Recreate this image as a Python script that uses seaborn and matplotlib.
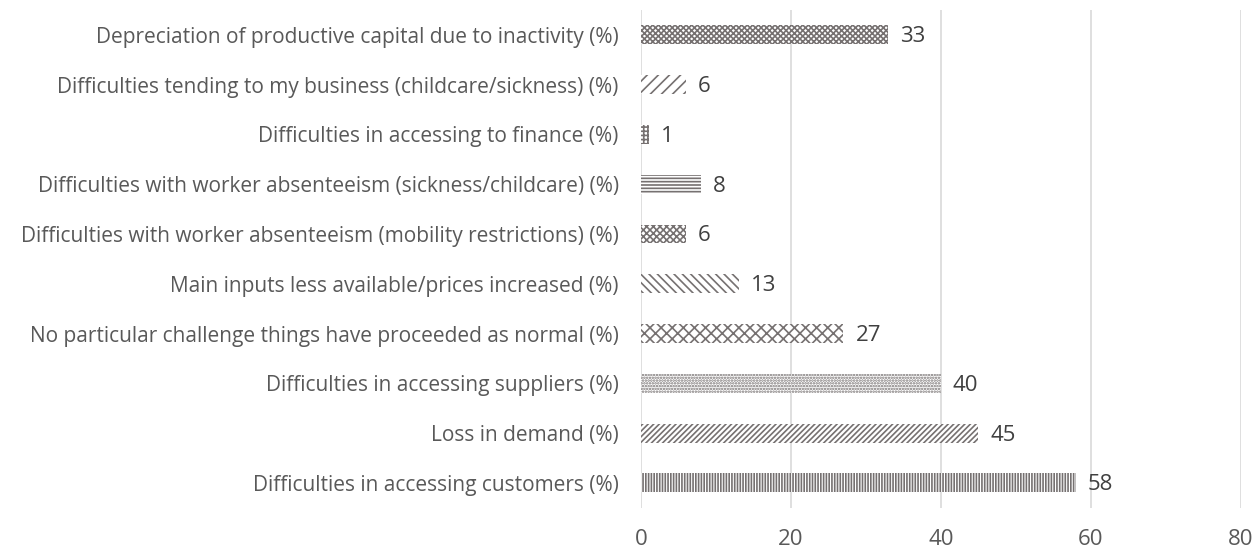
import pandas as pd
import seaborn as sns
import matplotlib.pyplot as plt

categories = [
    "Depreciation of productive capital due to inactivity (%)",
    "Difficulties tending to my business (childcare/sickness) (%)",
    "Difficulties in accessing to finance (%)",
    "Difficulties with worker absenteeism (sickness/childcare) (%)",
    "Difficulties with worker absenteeism (mobility restrictions) (%)",
    "Main inputs less available/prices increased (%)",
    "No particular challenge things have proceeded as normal (%)",
    "Difficulties in accessing suppliers (%)",
    "Loss in demand (%)",
    "Difficulties in accessing customers (%)",
]
values = [33, 6, 1, 8, 6, 13, 27, 40, 45, 58]
hatches = ["xxxxxx", "///", "++++", "-----", "xxxxx", "\\\\\\\\", "xxx", "......", "//////", "||||||"]

df = pd.DataFrame({"challenge": categories, "share": values})

sns.set_style("white")
plt.rcParams["font.family"] = ["Open Sans", "DejaVu Sans"]
plt.rcParams["hatch.linewidth"] = 1.2

fig = plt.figure(figsize=(12.57, 5.52), dpi=100)
ax = fig.add_axes([0.51, 0.08, 0.477, 0.902])

sns.barplot(data=df, x="share", y="challenge", orient="h", width=0.38,
            color="white", ax=ax)

hatch_col = "#767171"
for patch, h in zip(ax.patches, hatches):
    patch.set_facecolor("white")
    patch.set_edgecolor(hatch_col)
    patch.set_linewidth(0)
    patch.set_hatch(h)

for i, v in enumerate(values):
    ax.text(v + 1.6, i + 0.04, str(v), va="center", ha="left", fontsize=16, color="#404040")

ax.set_xlim(0, 80)
ax.set_xticks([0, 20, 40, 60, 80])
ax.xaxis.grid(True, color="#d9d9d9", linewidth=1.2)
ax.set_axisbelow(True)
for s in ax.spines.values():
    s.set_visible(False)
ax.set_xlabel("")
ax.set_ylabel("")
ax.tick_params(axis="x", length=0, pad=15, labelsize=16, labelcolor="#595959")
ax.tick_params(axis="y", length=0, pad=16, labelsize=15, labelcolor="#595959")

plt.savefig("out.png")
